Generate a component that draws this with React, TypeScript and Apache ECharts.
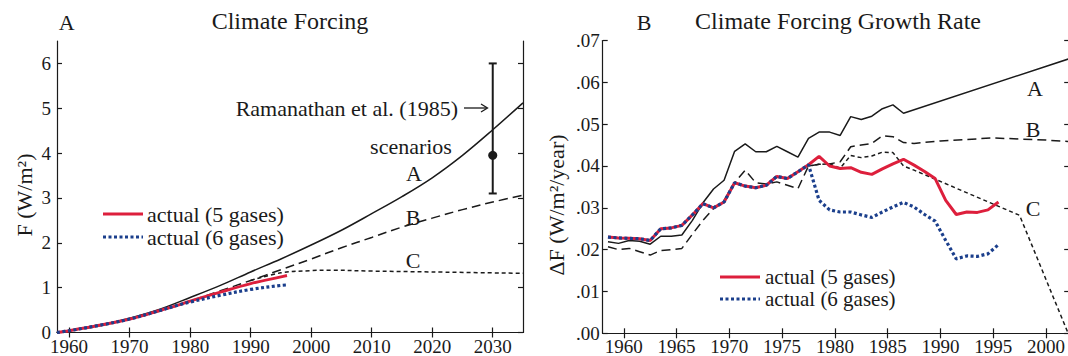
import React, { useEffect, useRef } from "react";
import * as echarts from "echarts";

const FONT = '"Liberation Serif", "Times New Roman", serif';
const INK = "#1a1a1a";
const RED = "#dd1f3c";
const BLUE = "#1b3f8c";

// ---------- Panel A: climate forcing (W/m2) ----------
const leftXTicks = [1960, 1970, 1980, 1990, 2000, 2010, 2020, 2030];
const leftYTicks = [0, 1, 2, 3, 4, 5, 6];
const scenYears = [1958, 1960, 1965, 1970, 1975, 1980, 1985, 1990, 1995, 2000, 2005, 2010, 2015, 2020, 2025, 2030, 2035];
const forcingA = [0, 0.04, 0.16, 0.32, 0.52, 0.78, 1.05, 1.35, 1.64, 1.95, 2.28, 2.65, 3.03, 3.45, 3.95, 4.52, 5.12];
const forcingB = [0, 0.04, 0.15, 0.30, 0.48, 0.70, 0.93, 1.16, 1.40, 1.64, 1.89, 2.12, 2.35, 2.55, 2.74, 2.91, 3.06];
const forcingCYears = [1990, 1995, 2000, 2003, 2010, 2020, 2035];
const forcingC = [1.16, 1.33, 1.38, 1.39, 1.37, 1.35, 1.32];
const actualYears = [1958, 1960, 1965, 1970, 1975, 1978, 1980, 1985, 1990, 1995, 1996];
const actual5 = [0, 0.04, 0.16, 0.30, 0.49, 0.61, 0.70, 0.90, 1.09, 1.24, 1.27];
const actual6 = [0, 0.04, 0.16, 0.30, 0.49, 0.61, 0.68, 0.83, 0.96, 1.05, 1.06];
const ramanathan = [2030, 3.1, 6.0, 3.95]; // year, low, high, central

// ---------- Panel B: climate forcing growth rate (W/m2/year) ----------
const rightXTicks = [1960, 1965, 1970, 1975, 1980, 1985, 1990, 1995, 2000];
const rightYTicks = [0, 0.01, 0.02, 0.03, 0.04, 0.05, 0.06, 0.07];
const rateYears = [
  1958.5, 1959.5, 1960.5, 1961.5, 1962.5, 1963.5, 1964.5, 1965.5, 1966.5, 1967.5,
  1968.5, 1969.5, 1970.5, 1971.5, 1972.5, 1973.5, 1974.5, 1975.5, 1976.5, 1977.5,
  1978.5, 1979.5, 1980.5, 1981.5, 1982.5, 1983.5, 1984.5, 1985.5, 1986.5, 1987.5,
  1988.5, 1989.5, 1990.5, 1991.5, 1992.5, 1993.5, 1994.5, 1995.5,
];
const rate5 = [
  0.0230, 0.0228, 0.0227, 0.0226, 0.0222, 0.0250, 0.0252, 0.0258, 0.0283, 0.0310,
  0.0300, 0.0314, 0.0360, 0.0352, 0.0348, 0.0354, 0.0375, 0.0370, 0.0386, 0.0403,
  0.0423, 0.0400, 0.0394, 0.0396, 0.0385, 0.0380, 0.0393, 0.0405, 0.0416, 0.0402,
  0.0387, 0.0370, 0.0318, 0.0284, 0.0290, 0.0289, 0.0295, 0.0314,
];
const rate6 = [
  0.0230, 0.0228, 0.0227, 0.0226, 0.0222, 0.0250, 0.0252, 0.0258, 0.0283, 0.0310,
  0.0300, 0.0314, 0.0360, 0.0352, 0.0348, 0.0354, 0.0375, 0.0370, 0.0386, 0.0403,
  0.0318, 0.0295, 0.0290, 0.0290, 0.0283, 0.0277, 0.0290, 0.0302, 0.0313, 0.0302,
  0.0284, 0.0268, 0.0222, 0.0178, 0.0185, 0.0184, 0.0190, 0.0212,
];
const rateAYears = [
  1958.5, 1959.5, 1960.5, 1961.5, 1962.5, 1963.5, 1964.5, 1965.5, 1966.5, 1967.5,
  1968.5, 1969.5, 1970.5, 1971.5, 1972.5, 1973.5, 1974.5, 1975.5, 1976.5, 1977.5,
  1978.5, 1979.5, 1980.5, 1981.5, 1982.5, 1983.5, 1984.5, 1985.5, 1986.5, 2002.5,
];
const rateA = [
  0.0219, 0.0215, 0.0222, 0.0220, 0.0213, 0.0232, 0.0232, 0.0235, 0.0270, 0.0312,
  0.0345, 0.0366, 0.0435, 0.0453, 0.0434, 0.0434, 0.0447, 0.0434, 0.0421, 0.0466,
  0.0481, 0.0481, 0.0473, 0.0518, 0.0511, 0.0519, 0.0537, 0.0546, 0.0526, 0.0659,
];
const rateBYears = [
  1958.5, 1959.5, 1960.5, 1961.5, 1962.5, 1963.5, 1964.5, 1965.5, 1966.5, 1967.5,
  1968.5, 1969.5, 1970.5, 1971.5, 1972.5, 1973.5, 1974.5, 1975.5, 1976.5, 1977.5,
  1978.5, 1979.5, 1980.5, 1981.5, 1982.5, 1983.5, 1984.5, 1985.5, 1986.5, 1987.5,
  1990, 1995, 2000, 2002.5,
];
const rateB = [
  0.0207, 0.0200, 0.0203, 0.0195, 0.0187, 0.0198, 0.0200, 0.0203, 0.0237, 0.0270,
  0.0298, 0.0318, 0.0360, 0.0390, 0.0360, 0.0357, 0.0362, 0.0354, 0.0346, 0.0400,
  0.0404, 0.0405, 0.0410, 0.0446, 0.0450, 0.0454, 0.0472, 0.0470, 0.0456, 0.0454,
  0.0460, 0.0467, 0.0462, 0.0458,
];
const rateCYears = [1977.5, 1978.5, 1979.5, 1980.5, 1981.5, 1982.5, 1983.5, 1984.5, 1985.5, 1986.5, 1987.5, 1997.5, 2002.1];
const rateC = [0.0400, 0.0404, 0.0405, 0.0395, 0.0425, 0.0420, 0.0424, 0.0433, 0.0432, 0.0400, 0.0390, 0.0282, 0.0];

const zip = (xs: number[], ys: number[]) => xs.map((x, i) => [x, ys[i]]);

const lineAxis = { show: true, lineStyle: { color: INK, width: 1.2 } };
const tickStyle = { color: INK, width: 1.2 };
const labelStyle = { fontSize: 19, fontFamily: FONT, color: INK };

function xAxes(grid: number, min: number, max: number, ticks: number[]) {
  return [
    {
      type: "value", gridIndex: grid, min, max, position: "bottom",
      axisLine: lineAxis, splitLine: { show: false },
      axisTick: { inside: true, length: 5, lineStyle: tickStyle, customValues: ticks },
      axisLabel: { ...labelStyle, margin: 4, customValues: ticks, formatter: (v: number) => String(v) },
    },
    {
      type: "value", gridIndex: grid, min, max, position: "top",
      axisLine: lineAxis, splitLine: { show: false },
      axisTick: { inside: true, length: 5, lineStyle: tickStyle, customValues: ticks },
      axisLabel: { show: false },
    },
  ];
}
function yAxes(grid: number, min: number, max: number, ticks: number[], fmt: (v: number) => string, margin: number) {
  return [
    {
      type: "value", gridIndex: grid, min, max, position: "left",
      axisLine: lineAxis, splitLine: { show: false },
      axisTick: { inside: true, length: 5, lineStyle: tickStyle, customValues: ticks },
      axisLabel: { ...labelStyle, margin, customValues: ticks, formatter: fmt },
    },
    {
      type: "value", gridIndex: grid, min, max, position: "right",
      axisLine: lineAxis, splitLine: { show: false },
      axisTick: { inside: true, length: 5, lineStyle: tickStyle, customValues: ticks },
      axisLabel: { show: false },
    },
  ];
}

function line(data: number[][], xi: number, yi: number, color: string, width: number, dash?: number[] | string, smooth = false) {
  return {
    type: "line", xAxisIndex: xi, yAxisIndex: yi, data, symbol: "none", smooth: smooth ? 0.35 : false,
    lineStyle: { color, width, type: dash || "solid", cap: "butt" },
    silent: true,
  };
}

function text(x: number, y: number, t: string, size: number, align = "center", rotation = 0) {
  return {
    type: "text", x, y, rotation, silent: true,
    style: { text: t, fontSize: size, fontFamily: FONT, fill: INK, align, verticalAlign: "middle" },
  };
}

export default function App() {
  const ref = useRef<HTMLDivElement>(null);
  useEffect(() => {
    if (!ref.current) return;
    const chart = echarts.init(ref.current, null, { renderer: "svg" });
    const option: any = {
      animation: false,
      backgroundColor: "#ffffff",
      textStyle: { fontFamily: FONT, color: INK },
      grid: [
        { left: 57, top: 41, width: 466, height: 291.5, outerBoundsMode: "none", containLabel: false },
        { left: 602.7, top: 40.5, width: 466.5, height: 292.8, outerBoundsMode: "none", containLabel: false },
      ],
      xAxis: [...xAxes(0, 1958, 2035, leftXTicks), ...xAxes(1, 1958, 2002.2, rightXTicks)],
      yAxis: [
        ...yAxes(0, 0, 6.5, leftYTicks, (v: number) => String(v), 6),
        ...yAxes(1, 0, 0.07, rightYTicks, (v: number) => v.toFixed(2).replace(/^0/, ""), 3),
      ],
      series: [
        line(zip(scenYears, forcingA), 0, 0, INK, 1.5, "solid", true),
        line(zip(scenYears, forcingB), 0, 0, INK, 1.5, [9, 5], true),
        line(zip(forcingCYears, forcingC), 0, 0, INK, 1.5, [4, 3], true),
        line(zip(actualYears, actual5), 0, 0, RED, 3, "solid", true),
        line(zip(actualYears, actual6), 0, 0, BLUE, 3.2, [3, 2.5], true),
        {
          type: "custom", xAxisIndex: 0, yAxisIndex: 0, silent: true,
          data: [ramanathan],
          renderItem: (_p: any, api: any) => {
            const x = api.value(0);
            const lo = api.coord([x, api.value(1)]);
            const hi = api.coord([x, api.value(2)]);
            const mid = api.coord([x, api.value(3)]);
            const st = { stroke: INK, lineWidth: 2 };
            return {
              type: "group",
              children: [
                { type: "line", shape: { x1: lo[0], y1: lo[1], x2: hi[0], y2: hi[1] }, style: st },
                { type: "line", shape: { x1: lo[0] - 4, y1: lo[1], x2: lo[0] + 4, y2: lo[1] }, style: st },
                { type: "line", shape: { x1: hi[0] - 4, y1: hi[1], x2: hi[0] + 4, y2: hi[1] }, style: st },
                { type: "circle", shape: { cx: mid[0], cy: mid[1], r: 4.5 }, style: { fill: INK } },
              ],
            };
          },
        },
        line(zip(rateAYears, rateA), 2, 2, INK, 1.5),
        line(zip(rateBYears, rateB), 2, 2, INK, 1.5, [9, 5]),
        line(zip(rateCYears, rateC), 2, 2, INK, 1.5, [4, 3]),
        line(zip(rateYears, rate5), 2, 2, RED, 3),
        line(zip(rateYears, rate6), 2, 2, BLUE, 3.2, [3, 2.5]),
      ],
      graphic: [
        text(66.7, 22, "A", 22),
        text(290, 21, "Climate Forcing", 24),
        text(644, 22, "B", 22),
        text(838, 21, "Climate Forcing Growth Rate", 24),
        text(24, 195, "F (W/m²)", 22, "center", Math.PI / 2),
        text(556, 205, "ΔF (W/m²/year)", 22, "center", Math.PI / 2),
        text(458, 108, "Ramanathan et al. (1985)", 22, "right"),
        { type: "line", silent: true, shape: { x1: 464, y1: 108, x2: 487, y2: 108 }, style: { stroke: INK, lineWidth: 1.3 } },
        { type: "polyline", silent: true, shape: { points: [[481, 104], [487.5, 108], [481, 112]] }, style: { stroke: INK, lineWidth: 1.3, fill: "none" } },
        text(411, 146, "scenarios", 22),
        text(414, 173, "A", 22),
        text(413, 217, "B", 22),
        text(413, 260, "C", 22),
        text(1035, 88, "A", 22),
        text(1033, 129, "B", 22),
        text(1033, 208, "C", 22),
        { type: "line", silent: true, shape: { x1: 103, y1: 214, x2: 143, y2: 214 }, style: { stroke: RED, lineWidth: 3 } },
        text(147, 214, "actual (5 gases)", 22, "left"),
        { type: "line", silent: true, shape: { x1: 103, y1: 237, x2: 143, y2: 237 }, style: { stroke: BLUE, lineWidth: 3.2, lineDash: [3, 2.5] } },
        text(147, 237, "actual (6 gases)", 22, "left"),
        { type: "line", silent: true, shape: { x1: 720, y1: 277, x2: 760, y2: 277 }, style: { stroke: RED, lineWidth: 3 } },
        text(765, 277, "actual (5 gases)", 21, "left"),
        { type: "line", silent: true, shape: { x1: 720, y1: 299, x2: 760, y2: 299 }, style: { stroke: BLUE, lineWidth: 3.2, lineDash: [3, 2.5] } },
        text(765, 299, "actual (6 gases)", 21, "left"),
      ],
    };
    chart.setOption(option);
    return () => chart.dispose();
  }, []);
  return (
    <div style={{ position: "fixed", left: 0, top: 0, width: 1068, height: 356, overflow: "hidden", background: "#fff" }}>
      <div ref={ref} style={{ width: 1080, height: 356 }} />
    </div>
  );
}
